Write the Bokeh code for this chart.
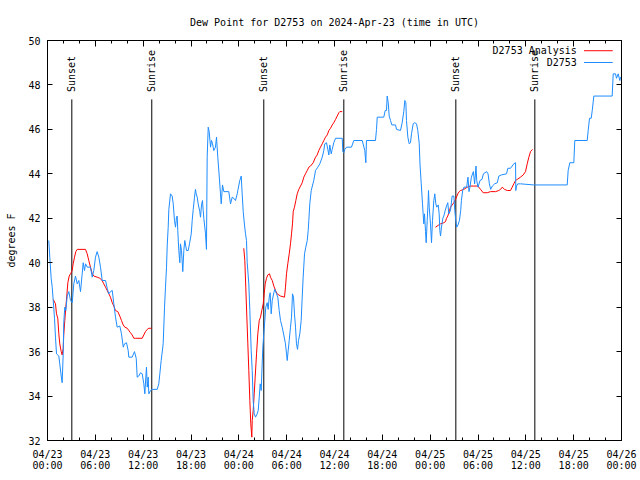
import math
from bokeh.plotting import figure
from bokeh.models import Range1d, FixedTicker, LinearAxis, Label, CustomLabelingPolicy
from bokeh.core.properties import value
from bokeh.embed import file_html
from bokeh.resources import INLINE

# ---------------- data (hours since 2024-04-23 00:00 UTC) ----------------
obs_hours = [0.16, 0.29, 0.46, 0.59, 0.72, 0.88, 1.00, 1.13, 1.42, 1.54, 1.72, 1.84, 1.97, 2.04, 2.17, 2.30,
             2.47, 2.67, 2.89, 3.10, 3.30, 3.51, 3.73, 3.93, 4.14, 4.35, 4.48, 4.64, 4.77, 4.98, 5.39, 5.61,
             5.81, 6.02, 6.23, 6.44, 6.65, 6.86, 7.28, 7.49, 7.69, 7.90, 8.12, 8.32, 8.53, 8.74, 9.07, 9.28,
             9.50, 9.66, 9.91, 10.12, 10.20, 10.62, 10.91, 11.13, 11.25, 11.45, 11.67, 11.88, 12.08, 12.21,
             12.33, 12.42, 12.51, 12.63, 12.71, 12.92, 13.13, 13.76, 13.96, 14.09, 14.26, 14.51, 14.68, 14.80,
             14.93, 15.02, 15.14, 15.22, 15.43, 15.64, 15.77, 15.93, 16.06, 16.18, 16.27, 16.34, 16.47, 16.60,
             16.68, 16.81, 16.97, 17.10, 17.22, 17.44, 17.65, 17.81, 18.03, 18.15, 18.28, 18.44, 18.56, 18.65,
             18.78, 18.90, 19.10, 19.19, 19.32, 19.44, 19.53, 19.61, 19.82, 19.94, 20.03, 20.16, 20.28, 20.45,
             20.57, 20.70, 20.86, 21.07, 21.20, 21.36, 21.54, 21.70, 21.79, 21.95, 22.12, 22.74, 22.96, 23.17,
             23.37, 23.58, 23.80, 23.87, 24.12, 24.30, 24.42, 24.55, 24.71, 24.84, 24.96, 25.05, 25.25, 25.38,
             25.55, 25.68, 25.80, 25.93, 26.09, 26.30, 26.43, 26.56, 26.68, 26.81, 26.88, 27.01, 27.13, 27.26,
             27.38, 27.56, 27.68, 27.81, 27.93, 28.06, 28.19, 28.39, 28.51, 28.73, 28.89, 29.06, 29.23, 29.44,
             29.64, 29.85, 29.98, 30.07, 30.19, 30.32, 30.48, 30.61, 30.73, 30.86, 30.98, 31.11, 31.23, 31.36,
             31.49, 31.65, 31.82, 31.95, 32.07, 32.24, 32.40, 32.58, 32.70, 32.78, 32.90, 33.08, 33.40, 33.62,
             33.91, 34.16, 34.46, 34.66, 34.78, 35.00, 35.16, 35.29, 35.41, 35.59, 35.71, 35.91, 36.13, 36.97,
             37.04, 37.17, 37.29, 37.51, 38.13, 38.42, 39.48, 39.80, 39.93, 40.01, 41.14, 41.27, 41.36, 42.18,
             42.36, 42.52, 42.61, 42.74, 42.86, 43.03, 43.19, 43.65, 43.78, 44.28, 44.49, 44.69, 44.82, 44.95,
             45.03, 45.20, 45.37, 45.53, 45.66, 45.87, 46.07, 46.29, 46.45, 46.63, 46.73, 46.88, 47.04, 47.20,
             47.29, 47.42, 47.50, 47.63, 47.75, 47.79, 47.88, 48.04, 48.17, 48.29, 48.46, 48.58, 48.71, 48.83,
             49.01, 49.13, 49.21, 49.30, 49.42, 49.59, 49.71, 49.89, 50.05, 50.21, 50.34, 50.55, 50.76, 50.97,
             51.09, 51.18, 51.33, 51.49, 51.67, 51.83, 51.92, 52.08, 52.24, 52.58, 52.74, 52.87, 52.99, 53.17,
             53.42, 53.58, 53.75, 53.84, 54.00, 54.25, 54.50, 54.68, 55.09, 55.26, 55.43, 55.59, 55.80, 56.09,
             56.42, 56.62, 56.92, 57.58, 57.74, 58.08, 58.29, 58.49, 58.71, 58.74, 58.83, 58.99, 59.33, 61.00,
             65.19, 65.31, 65.52, 66.02, 66.14, 67.70, 67.82, 67.99, 68.20, 68.33, 68.53, 70.83, 70.96, 71.25,
             71.37, 71.59, 71.79, 71.88]
obs_dewpt = [41.0, 40.25, 39.3, 38.9, 38.3, 37.5, 36.65, 35.9, 35.8, 35.45, 34.9, 34.6, 35.9, 37.3, 38.0, 37.85,
             38.5, 38.7, 38.3, 38.2, 39.05, 39.4, 39.05, 39.2, 38.7, 39.5, 40.0, 39.65, 39.95, 39.8, 39.8, 39.35,
             39.65, 40.25, 40.5, 40.25, 39.8, 39.2, 39.2, 38.85, 38.6, 38.7, 38.75, 38.15, 37.55, 37.1, 37.15, 36.8,
             36.2, 36.35, 36.4, 36.05, 35.75, 35.75, 36.0, 35.7, 34.85, 34.9, 35.05, 35.0, 34.55, 34.1,
             34.85, 35.3, 34.4, 34.85, 34.1, 34.25, 34.3, 34.3, 34.55, 35.0, 35.6, 36.35, 38.0, 38.9,
             39.8, 40.8, 41.6, 42.4, 43.1, 43.0, 42.65, 41.9, 41.6, 42.05, 42.1, 41.45, 40.55, 40.0,
             40.85, 40.55, 39.6, 40.55, 41.0, 40.55, 40.55, 40.85, 41.3, 41.9, 42.4, 42.95, 43.3, 43.1,
             42.95, 42.65, 42.3, 42.05, 42.6, 42.8, 42.35, 42.0, 41.3, 40.6, 44.75, 46.1, 45.9, 45.2,
             45.5, 45.35, 45.05, 45.2, 45.65, 44.75, 43.9, 43.1, 42.65, 43.5, 43.2, 43.2, 42.65, 42.95,
             42.9, 42.8, 43.1, 43.25, 43.7, 43.9, 43.1, 42.3, 41.7, 41.3, 41.0, 40.0, 39.05, 37.85,
             36.05, 35.15, 33.8, 33.2, 33.05, 33.2, 33.35, 33.95, 34.55, 34.25, 35.0, 36.2, 36.8, 37.4,
             38.0, 38.2, 37.9, 38.45, 38.65, 37.7, 38.3, 38.65, 38.8, 38.6, 38.45, 37.85, 37.4, 37.1,
             36.75, 36.35, 35.9, 35.6, 36.05, 36.5, 37.1, 37.55, 38.6, 38.45, 37.7, 37.1, 36.35, 36.1,
             36.5, 36.8, 37.4, 38.45, 39.35, 40.4, 40.7, 41.0, 41.45, 41.9, 42.65, 43.25, 43.7, 44.15,
             44.3, 44.45, 44.75, 45.05, 45.35, 45.4, 45.1, 44.85, 45.3, 44.9, 45.1, 45.4, 45.6, 45.6,
             45.0, 44.95, 45.1, 45.2, 45.2, 45.5, 45.5, 45.05, 44.5, 45.5, 45.5, 46.0, 46.55, 46.55,
             46.85, 46.85, 47.5, 47.2, 46.6, 46.4, 46.2, 46.2, 46.0, 45.95, 46.3, 46.8, 47.3, 47.2,
             46.4, 45.65, 45.35, 45.4, 45.8, 46.25, 46.3, 46.25, 45.95, 45.35, 44.4, 43.55, 42.65, 41.75,
             42.2, 41.4, 40.9, 41.9, 42.8, 43.25, 42.5, 41.75, 40.9, 41.9, 42.8, 43.1, 42.65, 42.5,
             42.6, 42.2, 41.45, 41.2, 41.6, 42.0, 42.1, 42.35, 42.55, 42.7, 42.2, 42.35, 43.0, 43.0,
             42.35, 42.0, 41.6, 41.7, 41.9, 42.35, 42.8, 43.25, 43.4, 43.4, 43.85, 43.2, 43.4, 43.85,
             44.1, 43.55, 44.35, 43.7, 43.4, 43.7, 43.75, 44.0, 44.1, 44.0, 43.55, 43.3, 43.45, 43.55,
             43.6, 43.9, 43.95, 44.0, 44.25, 44.25, 44.35, 44.45, 44.5, 43.25, 43.45, 43.55, 43.55, 43.5,
             43.5, 44.15, 44.5, 44.5, 45.5, 45.5, 45.95, 46.5, 46.5, 46.85, 47.5, 47.5, 48.5, 48.5,
             48.3, 48.5, 48.2, 48.35]

# Analysis series: three separate night-time segments
ana_hours_1 = [0.72, 1.00, 1.13, 1.29, 1.42, 1.54, 1.72, 1.84, 1.97, 2.04, 2.17, 2.30, 2.42, 2.55, 2.72, 2.89,
               3.10, 3.22, 3.39, 3.55, 3.73, 4.77, 4.98, 5.18, 5.39, 5.61, 5.81, 6.23, 6.56, 6.86, 7.06, 7.28,
               7.49, 7.69, 7.90, 8.12, 8.32, 8.53, 8.82, 9.07, 9.28, 9.50, 9.70, 10.00, 10.20, 10.41, 10.62,
               10.83, 11.04, 11.88, 12.08, 12.29, 12.51, 12.71, 13.05]
ana_dewpt_1 = [38.35, 38.15, 37.7, 37.5, 36.8, 36.35, 36.0, 35.85, 36.15, 36.75, 37.4, 38.0, 38.5, 39.1, 39.4, 39.5,
               39.65, 39.95, 40.25, 40.5, 40.6, 40.6, 40.4, 40.1, 39.8, 39.5, 39.4, 39.35, 39.3, 39.2, 39.05, 38.9,
               38.75, 38.6, 38.45, 38.2, 38.05, 37.85, 37.8, 37.6, 37.4, 37.2, 37.1, 37.05, 36.95, 36.85, 36.75,
               36.6, 36.6, 36.6, 36.75, 36.9, 37.0, 37.05, 37.05]
ana_hours_2 = [24.62, 24.75, 24.87, 25.00, 25.13, 25.25, 25.38, 25.50, 25.63, 25.68, 25.80, 25.93, 26.05, 26.22,
               26.38, 26.56, 26.72, 26.88, 27.06, 27.18, 27.31, 27.47, 27.63, 27.85, 27.97, 28.19, 28.39, 28.60,
               28.81, 29.23, 29.73, 29.85, 29.98, 30.14, 30.32, 30.48, 30.61, 30.73, 30.82, 30.98, 31.15, 31.32,
               31.52, 31.74, 31.95, 32.15, 32.36, 32.58, 32.78, 32.99, 33.33, 33.62, 33.83, 34.03, 34.24, 34.46,
               34.66, 34.87, 35.09, 35.29, 35.50, 35.71, 35.91, 36.13, 36.34, 36.54, 36.67, 36.97]
ana_dewpt_2 = [40.65, 40.1, 38.9, 37.6, 36.35, 35.15, 33.8, 32.75, 32.15, 32.9, 33.35, 34.1, 34.85, 35.9,
               36.8, 37.4, 37.55, 37.85, 38.15, 38.6, 39.05, 39.3, 39.45, 39.5, 39.35, 39.2, 38.95, 38.75,
               38.6, 38.5, 38.45, 38.9, 39.5, 39.95, 40.4, 40.85, 41.3, 41.75, 42.3, 42.5, 42.8, 43.1,
               43.3, 43.45, 43.6, 43.85, 44.0, 44.15, 44.3, 44.35, 44.5, 44.75, 44.85, 45.05, 45.2, 45.35,
               45.5, 45.65, 45.75, 45.95, 46.05, 46.2, 46.3, 46.45, 46.6, 46.75, 46.8, 46.8]
ana_hours_3 = [48.67, 49.08, 49.30, 49.71, 49.92, 50.05, 50.21, 50.43, 50.55, 50.76, 50.97, 51.09, 51.18, 51.47,
               51.64, 51.81, 52.22, 52.65, 53.06, 53.48, 53.98, 54.32, 54.65, 55.16, 55.57, 56.20, 56.61, 56.83,
               57.04, 57.33, 57.67, 58.08, 58.29, 58.49, 58.71, 58.92, 59.33, 59.67, 59.96, 60.17, 60.38, 60.59,
               60.84]
ana_dewpt_3 = [41.6, 41.7, 41.75, 41.8, 41.85, 42.0, 42.1, 42.35, 42.5, 42.6, 42.7, 42.8, 42.85, 43.1,
               43.2, 43.25, 43.3, 43.4, 43.45, 43.45, 43.45, 43.3, 43.15, 43.15, 43.2, 43.2, 43.25, 43.3,
               43.4, 43.3, 43.25, 43.25, 43.4, 43.55, 43.7, 43.75, 43.85, 43.95, 44.1, 44.45, 44.75, 45.0,
               45.1]

event_hours = [3.05, 13.08, 27.13, 37.17, 51.22, 61.13]
event_names = ["Sunset", "Sunrise", "Sunset", "Sunrise", "Sunset", "Sunrise"]

x_tick_hours = [0, 6, 12, 18, 24, 30, 36, 42, 48, 54, 60, 66, 72]
x_tick_labels = ["04/23\n00:00", "04/23\n06:00", "04/23\n12:00", "04/23\n18:00",
                 "04/24\n00:00", "04/24\n06:00", "04/24\n12:00", "04/24\n18:00",
                 "04/25\n00:00", "04/25\n06:00", "04/25\n12:00", "04/25\n18:00",
                 "04/26\n00:00"]
x_minor_hours = list(range(0, 73, 2))
y_ticks = [32, 34, 36, 38, 40, 42, 44, 46, 48, 50]

series_names = ["D2753 Analysis", "D2753"]
series_colors = ["#ff0000", "#1e8cff"]

# ---------------- styling constants ----------------
FONT = "DejaVu Sans Mono"
FS = "10px"
EVENT_LINE_TOP = 47.35
EVENT_LABEL_Y = 47.68

p = figure(width=640, height=480, output_backend="svg", toolbar_location=None,
           x_range=Range1d(0, 72), y_range=Range1d(32, 50),
           min_border_left=47, min_border_right=19, min_border_top=40, min_border_bottom=40,
           title="Dew Point for D2753 on 2024-Apr-23 (time in UTC)")
p.background_fill_color = "white"
p.border_fill_color = "white"
p.outline_line_color = "black"
p.outline_line_width = 1
p.xgrid.visible = False
p.ygrid.visible = False

p.title.align = "center"
p.title.text_font = FONT
p.title.text_font_size = FS
p.title.text_font_style = "normal"
p.title.text_color = "black"
p.title.standoff = 25

xt = FixedTicker(ticks=x_tick_hours, minor_ticks=x_minor_hours)
yt = FixedTicker(ticks=y_ticks, minor_ticks=[])

def style_axis(ax, horiz):
    ax.axis_line_color = "black"
    ax.major_tick_line_color = "black"
    ax.minor_tick_line_color = "black"
    ax.major_tick_out = 0
    ax.minor_tick_out = 0
    if horiz:
        ax.major_tick_in = 6
        ax.minor_tick_in = 3
    else:
        ax.major_tick_in = 5
        ax.minor_tick_in = 0
    ax.major_label_text_font = FONT
    ax.major_label_text_font_size = FS
    ax.major_label_text_color = "black"

xa = p.xaxis[0]
xa.ticker = xt
xa.major_label_overrides = {h: lab for h, lab in zip(x_tick_hours, x_tick_labels)}
style_axis(xa, True)
xa.major_label_standoff = 8
xa.major_label_text_line_height = 1.05

ya = p.yaxis[0]
ya.ticker = yt
style_axis(ya, False)
ya.major_label_standoff = 7
ya.axis_label = "degrees F"
ya.axis_label_text_font = FONT
ya.axis_label_text_font_size = FS
ya.axis_label_text_font_style = "normal"
ya.axis_label_text_color = "black"
ya.axis_label_standoff = 8

# mirror axes (ticks only, no labels drawn)
top = LinearAxis(ticker=xt)
style_axis(top, True)
top.major_label_text_font_size = "0px"
top.major_label_standoff = 0
top.major_label_policy = CustomLabelingPolicy(code="for (const i of indices) { indices.unset(i) }\nreturn indices")
p.add_layout(top, "above")

right = LinearAxis(ticker=yt)
style_axis(right, False)
right.major_label_text_font_size = "0px"
right.major_label_standoff = 0
right.major_label_policy = CustomLabelingPolicy(code="for (const i of indices) { indices.unset(i) }\nreturn indices")
p.add_layout(right, "right")

# sunrise / sunset markers
p.segment(x0=event_hours, y0=[32] * len(event_hours), x1=event_hours,
          y1=[EVENT_LINE_TOP] * len(event_hours), line_color="black", line_width=1.0)
p.text(x=event_hours, y=[EVENT_LABEL_Y] * len(event_hours), text=event_names, angle=math.pi / 2,
       text_align="left", text_baseline="middle", text_font=value(FONT), text_font_size=value(FS),
       text_color="black")

# series
for hrs, vals in [(ana_hours_1, ana_dewpt_1), (ana_hours_2, ana_dewpt_2), (ana_hours_3, ana_dewpt_3)]:
    p.line(hrs, vals, line_color=series_colors[0], line_width=1.0)
p.line(obs_hours, obs_dewpt, line_color=series_colors[1], line_width=1.0)

# gnuplot-style legend: text right-aligned, sample line to the right
LEG_TEXT_X = 66.4
LEG_LINE_X0 = 67.3
LEG_LINE_X1 = 70.9
LEG_Y = [49.54, 49.01]
for name, col, ly in zip(series_names, series_colors, LEG_Y):
    p.add_layout(Label(x=LEG_TEXT_X, y=ly, text=name, text_align="right", text_baseline="middle",
                       text_font=FONT, text_font_size=FS, text_color="black"))
p.segment(x0=[LEG_LINE_X0] * 2, y0=LEG_Y, x1=[LEG_LINE_X1] * 2, y1=LEG_Y,
          line_color=series_colors, line_width=1.0)

open("out.html", "w").write(file_html(p, INLINE))
